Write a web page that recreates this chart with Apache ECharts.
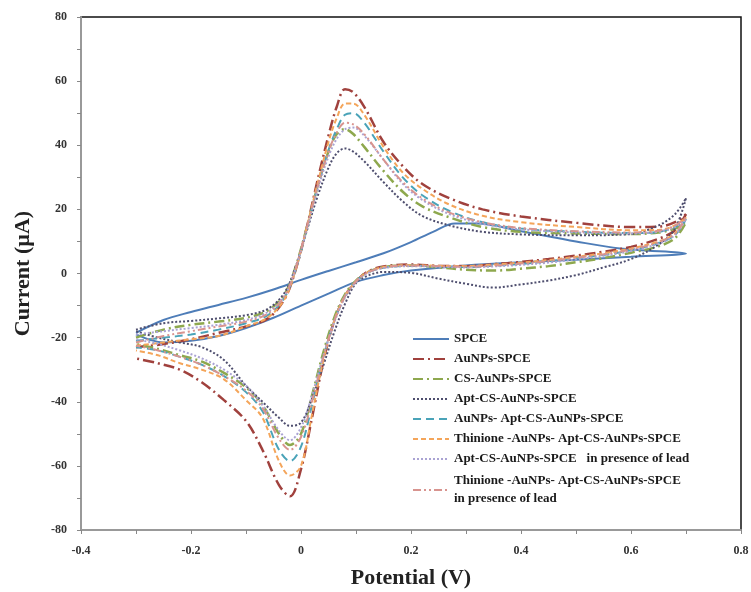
<!DOCTYPE html>
<html>
<head>
<meta charset="utf-8">
<script src="https://cdn.jsdelivr.net/npm/echarts@6/dist/echarts.min.js"></script>
<style>
  html, body { margin: 0; padding: 0; background: #fff; }
  #main { width: 751px; height: 592px; }
</style>
</head>
<body>
<div id="main"></div>
<script>
// potentials (V) of the forward (upper) and reverse (lower) scans
var upperV = [-0.3, -0.25, -0.2, -0.15, -0.1, -0.06, -0.03, -0.01, 0.01, 0.03, 0.05, 0.065, 0.08,
              0.095, 0.115, 0.15, 0.185, 0.22, 0.27, 0.33, 0.4, 0.5, 0.6, 0.65, 0.68, 0.7];
var lowerV = [0.7, 0.68, 0.65, 0.6, 0.55, 0.5, 0.45, 0.4, 0.35, 0.3, 0.25, 0.2, 0.15, 0.12, 0.1,
              0.08, 0.06, 0.04, 0.02, 0.0, -0.02, -0.04, -0.07, -0.1, -0.14, -0.18, -0.22, -0.26, -0.3];

// bare SPCE has its own sampling
var spceUpperV = [-0.3, -0.25, -0.2, -0.15, -0.1, -0.05, 0, 0.05, 0.1, 0.15, 0.2, 0.24, 0.28, 0.32, 0.4, 0.5, 0.58, 0.7];
var spceUpper  = [-18.5, -14.5, -12, -9.8, -7.6, -5, -2, 0.8, 3.5, 6.3, 9.8, 13, 15.6, 15.6, 13.2, 10, 7.8, 6.2];
var spceLowerV = [0.7, 0.6, 0.5, 0.4, 0.3, 0.2, 0.15, 0.1, 0.05, 0, -0.05, -0.1, -0.15, -0.2, -0.25, -0.3];
var spceLower  = [6.2, 5.2, 4.3, 3.5, 2.5, 0.9, -0.5, -2.6, -6.3, -10, -13.8, -17, -19.5, -21, -21.5, -19];

// current (uA)
var aunpsUpper = [-23, -22, -20.5, -18.5, -16.5, -14, -8, 1, 14, 29, 43, 52, 57.5,
                  56.5, 52, 41, 33.5, 28, 23.5, 20, 17.8, 15.8, 14.5, 14.6, 16, 18.5];
var aunpsLower = [18.5, 13.5, 10.8, 8.3, 6.8, 5.6, 4.5, 3.6, 2.9, 2.3, 2.4, 2.8, 2.2, 0.5, -2.5,
                  -7, -15, -28, -45, -61, -69.5, -66, -55, -46, -39.5, -34, -30, -28, -26.5];

var csUpper = [-20, -17.5, -16, -15, -13.8, -11.5, -6.5, 2, 14, 27, 38, 43.5, 45,
               43.5, 39.5, 32, 25.5, 21, 17.5, 14.5, 13, 12.5, 12.3, 12.8, 14, 16];
var csLower = [16, 11, 8.5, 6.5, 4.8, 3.5, 2.3, 1.5, 0.9, 1.2, 1.9, 2.5, 2, 0.3, -2.2,
               -6.5, -14, -25, -38, -50, -53.5, -50, -41, -35.5, -31, -27.5, -25.5, -23.5, -22];

var aptUpper = [-17.5, -15.5, -14.8, -14, -13, -11, -6, 2, 13, 24, 33, 37.5, 39,
                38, 35, 28.5, 22.5, 18, 15, 13, 12.2, 11.9, 12.3, 15, 18.5, 23.5];
var aptLower = [23.5, 14, 9, 4.5, 1.9, -0.5, -2.2, -3.4, -4.4, -3.2, -1.6, 0.2, 0.5, -0.8, -3,
                -9.5, -18.5, -29, -39, -46.5, -47.5, -45, -40, -35, -27, -23, -21.5, -20, -18];

var aunpsAptUpper = [-21, -20, -19, -17.5, -15.5, -13, -7.5, 1, 13.5, 27, 38.5, 45, 49.5,
                     50, 47, 38, 30, 24.5, 19.5, 16, 14, 13, 12.6, 13, 14.5, 17];
var aunpsAptLower = [17, 12, 9.5, 7.3, 5.8, 4.8, 3.8, 3, 2.4, 2, 2.2, 2.4, 1.8, 0.2, -2.5,
                     -7, -15, -26.5, -41, -54, -58.5, -55, -43, -37, -32, -28.5, -26, -24, -23];

var thinioneUpper = [-22.5, -21.5, -20.5, -19.5, -16.5, -13.7, -8, 1, 14, 28, 41, 48.5, 53,
                     53, 49.5, 39.5, 31.5, 26.5, 21.5, 18, 16, 14.5, 13.5, 13.6, 15, 17.5];
var thinioneLower = [17.5, 12.5, 10, 7.8, 6.3, 5.2, 4.2, 3.4, 2.8, 2.3, 2.4, 2.6, 2, 0.3, -2.5,
                     -7, -15, -27.5, -44, -60, -63, -58.5, -45, -39.5, -33, -30, -28, -25.5, -24];

var aptLeadUpper = [-19, -18, -17, -16, -14.5, -12, -7, 1.5, 13.5, 26, 36.5, 42, 45,
                    45.5, 43, 35.5, 28, 23, 18.5, 15.5, 13.8, 12.8, 12.5, 13, 14.5, 17];
var aptLeadLower = [17, 12, 9.3, 7, 5.5, 4.4, 3.4, 2.7, 2.2, 1.9, 2.1, 2.3, 1.7, 0, -2.7,
                    -7.5, -15.5, -26, -38, -48, -52, -49, -41, -35, -30, -26.5, -24, -22, -20.5];

var thinioneLeadUpper = [-21.5, -19.5, -18, -16.5, -15, -12.5, -7, 1.5, 14, 27, 38, 44, 47,
                         46.5, 43.5, 35.5, 28.5, 23.5, 19, 16, 14.2, 13.2, 12.8, 13.3, 15, 17.5];
var thinioneLeadLower = [17.5, 12.5, 9.8, 7.5, 6, 4.9, 3.9, 3.1, 2.5, 2.1, 2.3, 2.5, 1.9, 0.2, -2.4,
                         -7, -15, -26.5, -40, -51, -55, -51.5, -42, -36.5, -32, -28.5, -26, -24, -22.5];

var names = ['SPCE', 'AuNPs-SPCE', 'CS-AuNPs-SPCE', 'Apt-CS-AuNPs-SPCE', 'AuNPs- Apt-CS-AuNPs-SPCE',
             'Thinione -AuNPs- Apt-CS-AuNPs-SPCE', 'Apt-CS-AuNPs-SPCE   in presence of lead',
             'Thinione -AuNPs- Apt-CS-AuNPs-SPCE\nin presence of lead'];
var xTicks = [-0.4, -0.2, 0, 0.2, 0.4, 0.6, 0.8];
var yTicks = [-80, -60, -40, -20, 0, 20, 40, 60, 80];

function loop(uv, ui, lv, li) {
    var pts = [];
    for (var i = 0; i < uv.length; i++) pts.push([uv[i], ui[i]]);
    for (var j = 0; j < lv.length; j++) pts.push([lv[j], li[j]]);
    return pts;
}

function cv(name, data, color, type, width) {
    return {
        name: name,
        type: 'line',
        data: data,
        smooth: 0.35,
        symbol: 'none',
        lineStyle: { color: color, type: type, width: width },
        itemStyle: { color: color }
    };
}

var series = [
    cv(names[0], loop(spceUpperV, spceUpper, spceLowerV, spceLower), '#4e7db8', 'solid', 2),
    cv(names[1], loop(upperV, aunpsUpper, lowerV, aunpsLower), '#a0413d', [11, 4, 2, 4], 2.5),
    cv(names[2], loop(upperV, csUpper, lowerV, csLower), '#8ea84e', [10, 4, 2, 4], 2.5),
    cv(names[3], loop(upperV, aptUpper, lowerV, aptLower), '#4e4e6e', [2, 2], 2),
    cv(names[4], loop(upperV, aunpsAptUpper, lowerV, aunpsAptLower), '#4aa3b8', [8, 5], 2),
    cv(names[5], loop(upperV, thinioneUpper, lowerV, thinioneLower), '#f4a55a', [5, 3], 2),
    cv(names[6], loop(upperV, aptLeadUpper, lowerV, aptLeadLower), '#aaa3d3', [2, 2], 2),
    cv(names[7], loop(upperV, thinioneLeadUpper, lowerV, thinioneLeadLower), '#d8948f', [8, 3, 2, 3, 2, 3], 2)
];

var serif = '"Liberation Serif", "Times New Roman", serif';
var legendData = names.map(function (n, i) {
    return i === names.length - 1 ? { name: n, textStyle: { lineHeight: 18 } } : n;
});
var myChart = echarts.init(document.getElementById('main'));

myChart.setOption({
    animation: false,
    grid: {
        left: 81, right: 10, top: 17, bottom: 62,
        outerBoundsMode: 'none',
        show: true, borderColor: '#111', borderWidth: 1.5
    },
    legend: {
        orient: 'vertical',
        left: 407,
        top: 327,
        itemWidth: 36,
        itemHeight: 12,
        itemGap: 6,
        data: legendData,
        itemStyle: { opacity: 0 },
        textStyle: { fontFamily: serif, fontWeight: 'bold', fontSize: 13, color: '#1a1a1a', lineHeight: 14 }
    },
    xAxis: {
        type: 'value',
        min: xTicks[0],
        max: xTicks[xTicks.length - 1],
        interval: 0.2,
        name: 'Potential (V)',
        nameLocation: 'middle',
        nameGap: 37,
        nameTextStyle: { fontFamily: serif, fontWeight: 'bold', fontSize: 22, color: '#222' },
        axisLine: { onZero: false, lineStyle: { color: '#999', width: 2 } },
        axisTick: { show: true, length: 4, lineStyle: { color: '#888' } },
        minorTick: { show: true, splitNumber: 2, length: 4, lineStyle: { color: '#888' } },
        splitLine: { show: false },
        axisLabel: { margin: 15, fontFamily: serif, fontWeight: 'bold', fontSize: 12, color: '#333' }
    },
    yAxis: {
        type: 'value',
        min: yTicks[0],
        max: yTicks[yTicks.length - 1],
        interval: 20,
        name: 'Current (µA)',
        nameLocation: 'middle',
        nameGap: 47,
        nameTextStyle: { fontFamily: serif, fontWeight: 'bold', fontSize: 22, color: '#222' },
        axisLine: { onZero: false, lineStyle: { color: '#999', width: 2 } },
        axisTick: { show: true, length: 4, lineStyle: { color: '#888' } },
        minorTick: { show: true, splitNumber: 2, length: 4, lineStyle: { color: '#888' } },
        splitLine: { show: false },
        axisLabel: { margin: 14, fontFamily: serif, fontWeight: 'bold', fontSize: 12, color: '#333' }
    },
    series: series
});
</script>
</body>
</html>
